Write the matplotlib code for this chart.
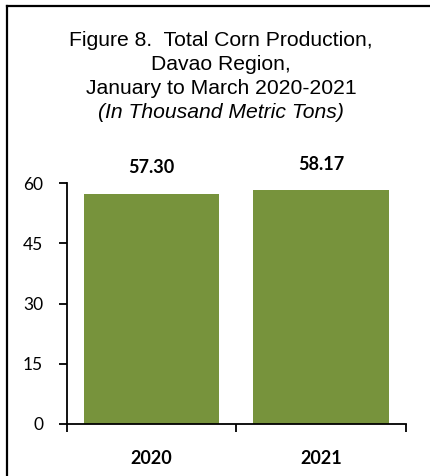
import matplotlib
matplotlib.use("Agg")
import matplotlib.pyplot as plt
from matplotlib.lines import Line2D

years = ["2020", "2021"]
production = [57.30, 58.17]
y_ticks = [0, 15, 30, 45, 60]
title_lines = [
    ("Figure 8.  Total Corn Production,", "normal"),
    ("Davao Region,", "normal"),
    ("January to March 2020-2021", "normal"),
    ("(In Thousand Metric Tons)", "italic"),
]

W, H, DPI = 431, 476, 100
fig = plt.figure(figsize=(W / DPI, H / DPI), dpi=DPI)
fig.patch.set_facecolor("white")

# frame lines on the left and top edges
fig.add_artist(Line2D([7.5 / W, 7.5 / W], [0, 1 - 6 / H], color="black", lw=1.6,
                      transform=fig.transFigure))
fig.add_artist(Line2D([7.5 / W, 1], [1 - 6 / H, 1 - 6 / H], color="black", lw=1.6,
                      transform=fig.transFigure))

# title
title_y = [40, 64, 88, 112]
for (line, style), yp in zip(title_lines, title_y):
    fig.text(221 / W, 1 - yp / H, line, ha="center", va="center",
             family="Liberation Sans", fontsize=15.2, style=style, color="black")

left, right = 66.7 / W, 406 / W
bottom, top = 1 - 424 / H, 1 - 183 / H
ax = fig.add_axes([left, bottom, right - left, top - bottom])

xpos = list(range(len(years)))
bars = ax.bar(xpos, production, width=0.8, color="#77933C", zorder=2)

ax.set_xlim(-0.5, len(years) - 0.5)
ax.set_ylim(0, 60)

for sp in ["top", "right"]:
    ax.spines[sp].set_visible(False)
for sp in ["left", "bottom"]:
    ax.spines[sp].set_linewidth(1.3)
    ax.spines[sp].set_color("black")

ax.set_yticks(y_ticks)
ax.set_yticklabels([str(t) for t in y_ticks], family="Lato", fontsize=12.5)
ax.tick_params(axis="y", direction="out", length=6, width=1.3, pad=11)

# category boundaries as major ticks, year names as minor tick labels
ax.set_xticks([i - 0.5 for i in range(len(years) + 1)])
ax.set_xticklabels([])
ax.tick_params(axis="x", which="major", direction="out", length=6, width=1.3)
ax.set_xticks(xpos, minor=True)
ax.set_xticklabels(years, minor=True, family="Lato", fontweight="bold", fontsize=13)
ax.tick_params(axis="x", which="minor", length=0, pad=19)

for x, v in zip(xpos, production):
    ax.annotate(f"{v:.2f}", xy=(x, v), xytext=(0, 26), textcoords="offset pixels",
                ha="center", va="center", family="Lato", fontweight="bold",
                fontsize=13, color="black", annotation_clip=False)

fig.savefig("out.png", dpi=DPI, facecolor="white")
